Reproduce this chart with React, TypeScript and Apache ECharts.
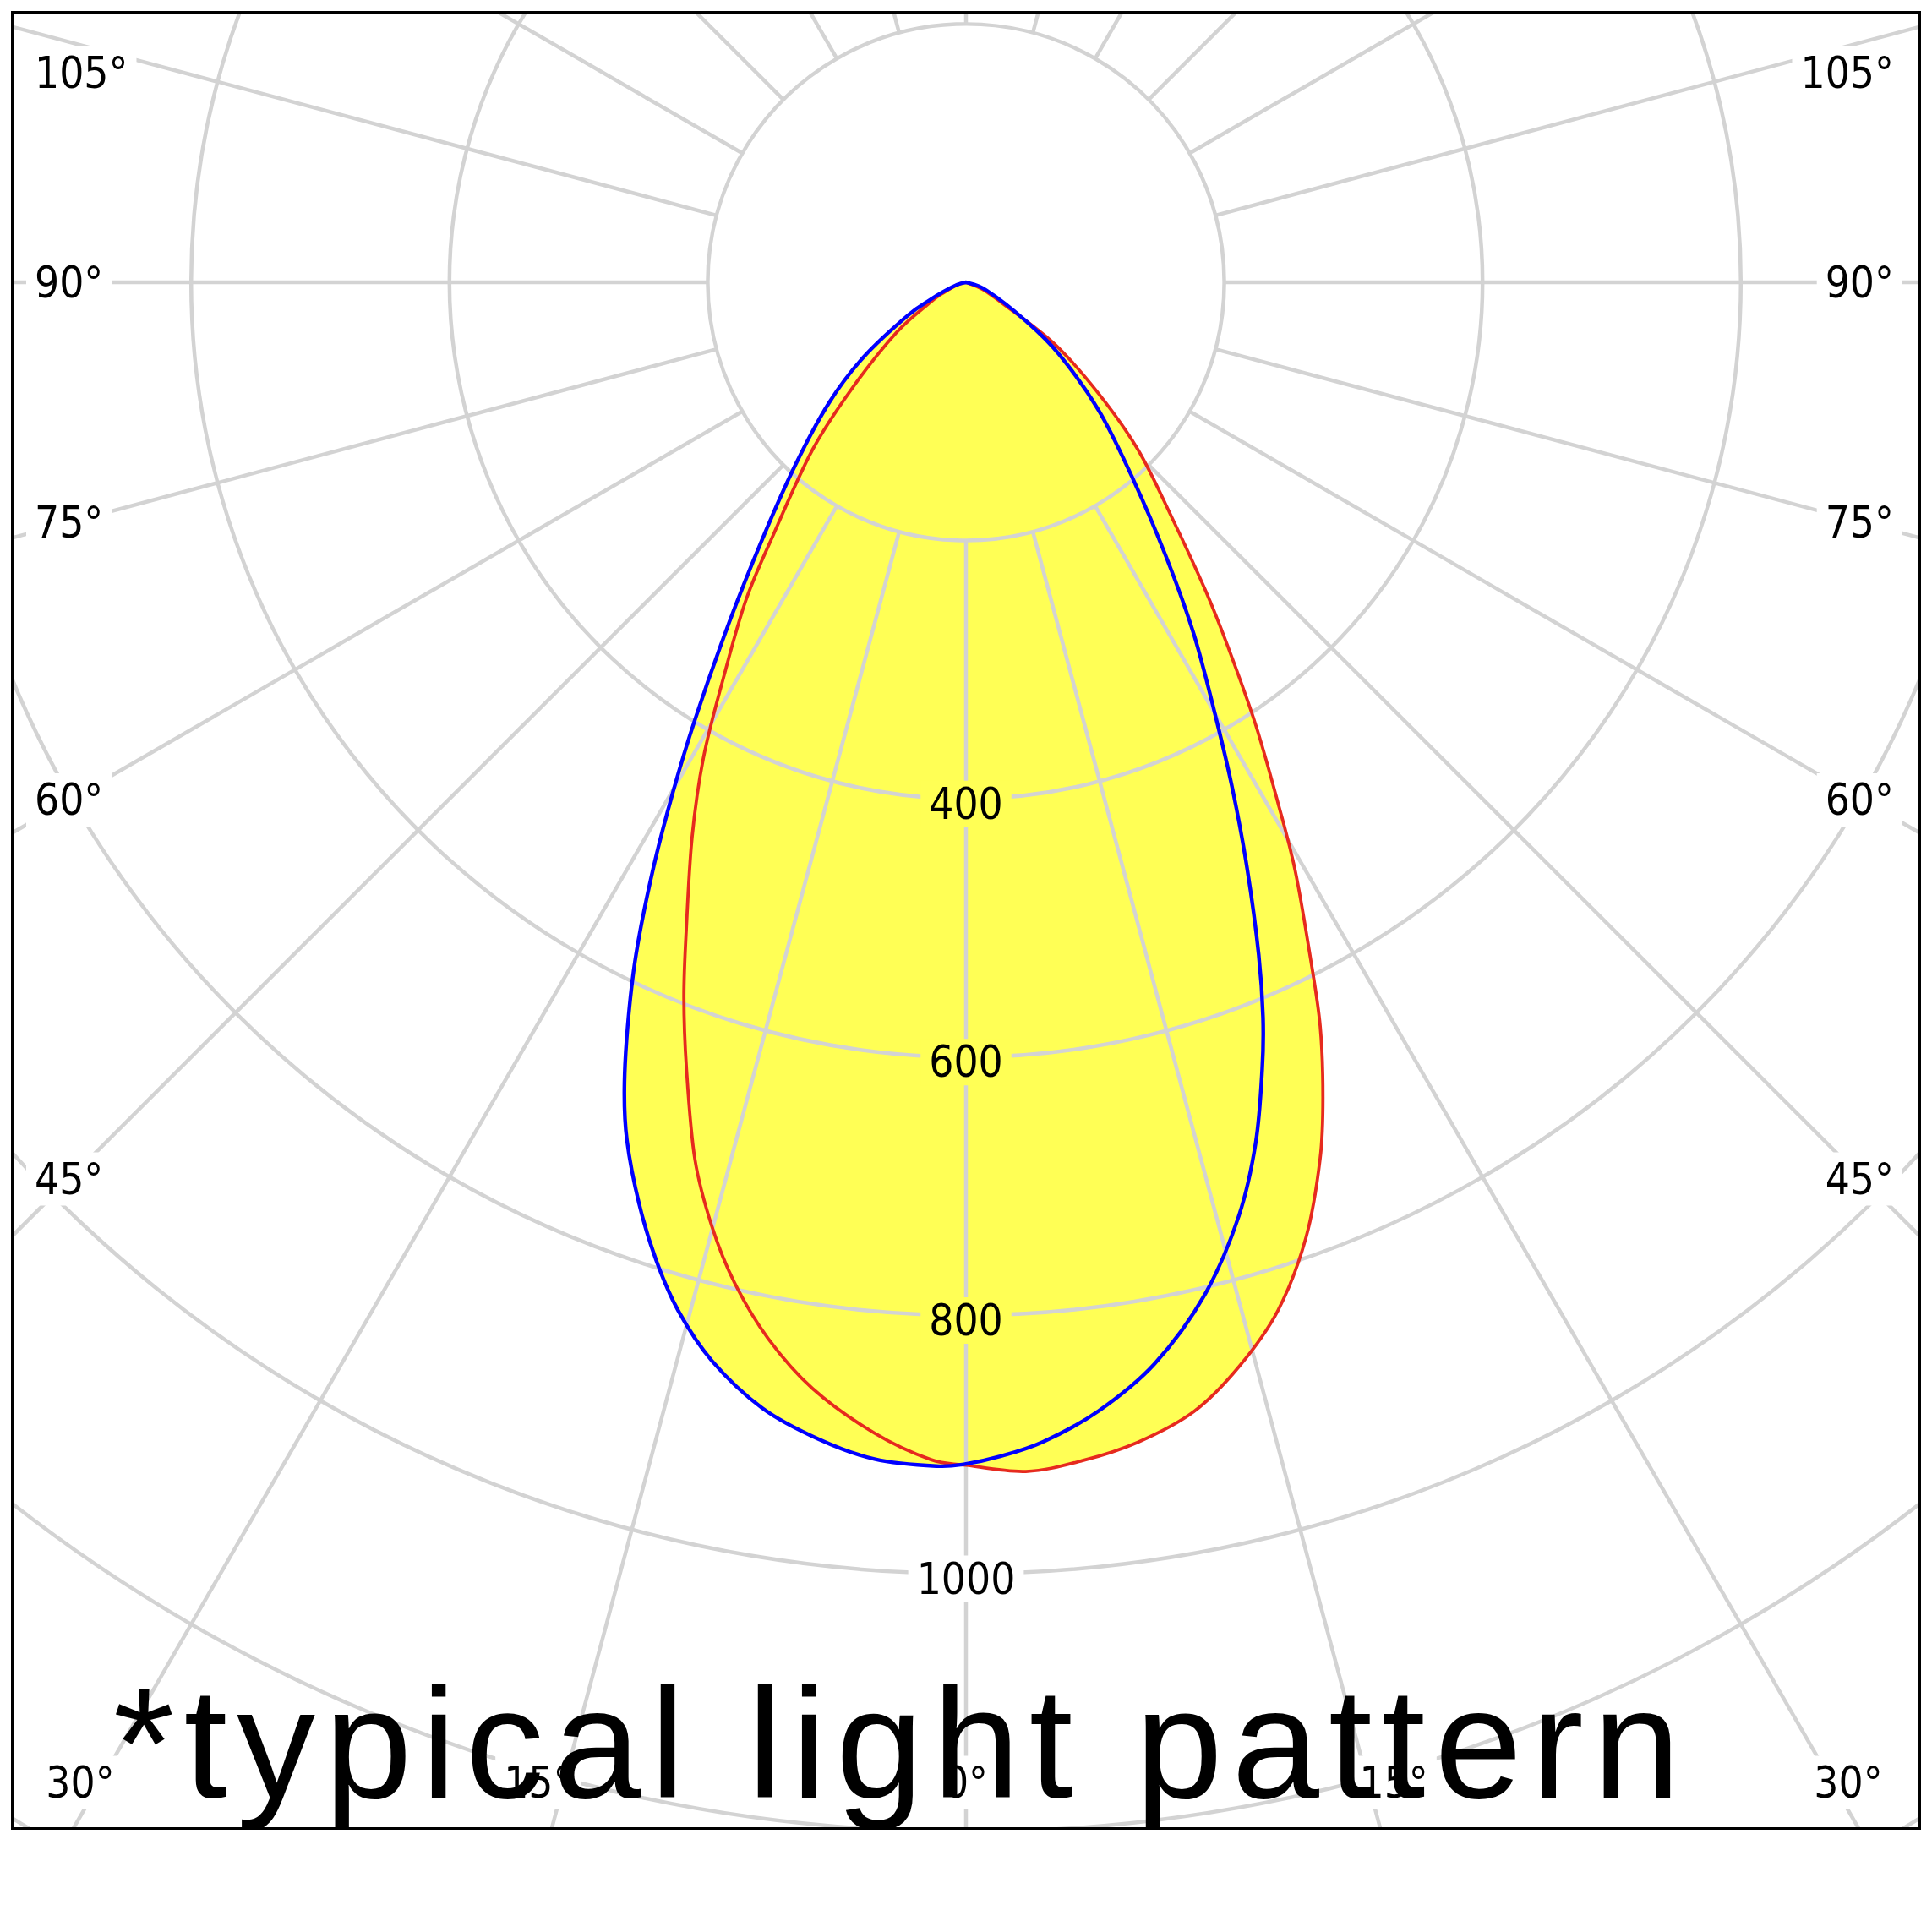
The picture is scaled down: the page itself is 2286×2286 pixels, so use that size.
import React, { useEffect, useRef } from "react";
import * as echarts from "echarts";

// ---- data: [angle from nadir (deg), intensity (cd/klm)] ----
const BLUE_RIGHT: [number, number][] = [
  [0, 915], [1.55, 910], [3.78, 900], [6.7, 880], [9.9, 850], [13.3, 805], [16.3, 753], [18.61, 703],
  [20.63, 651], [22.0, 614], [23.52, 568], [25.57, 505], [27.68, 445], [29.8, 390], [32.9, 325],
  [36.1, 263], [40.4, 199], [46.0, 143], [52.3, 91], [57.2, 55], [68.6, 17], [90, 0],
];
const BLUE_LEFT: [number, number][] = [
  [0, 915], [1.44, 917], [4.45, 914], [7.27, 903], [10.25, 886], [13.26, 858], [15.63, 827], [17.6, 794],
  [19.54, 757], [21.58, 714], [22.93, 679], [24.45, 633], [26.14, 580], [28.04, 516], [29.9, 455],
  [31.8, 398], [34.8, 322], [38.4, 254], [43.1, 193], [48.7, 141], [53.9, 98], [60.35, 52], [64.0, 31],
  [67.3, 19], [74.9, 7], [90, 0],
];
const RED_RIGHT: [number, number][] = [
  [0, 916], [2.88, 922], [5.62, 917], [8.43, 908], [11.42, 892], [14.12, 866], [16.88, 832], [19.6, 785],
  [22.0, 732], [23.65, 689], [25.46, 638], [27.05, 586], [29.23, 522], [30.93, 470], [33.23, 409],
  [35.73, 347], [37.86, 302], [41.2, 242], [45.76, 186], [50.0, 134], [55.2, 83], [59.8, 34], [67.0, 14],
  [90, 0],
];
const RED_LEFT: [number, number][] = [
  [0, 916], [1.73, 912], [4.55, 894], [7.88, 865], [10.62, 832], [13.04, 795], [15.07, 757], [17.17, 711],
  [19.54, 647], [21.54, 595], [23.45, 544], [26.28, 479], [28.89, 421], [31.44, 361], [34.67, 300],
  [37.4, 245], [42.5, 176], [47.1, 120], [54.25, 66], [61.2, 30], [65.3, 18], [73.3, 7], [90, 0],
];

const RADIUS_LABELS = [400, 600, 800, 1000];
const SIDE_LABEL_ANGLES = [45, 60, 75, 90, 105];
const BOTTOM_LABEL_ANGLES = [0, 15, 30];
const NOTE = "*typical light pattern";

// ---- layout / style ----
const PAGE = 2286;
const BOX_LEFT = 13;
const BOX_TOP = 13;
const BOX_W = 2260;
const BOX_H = 2152;
const CX = 1130;
const CY = 321;
const PX_PER_UNIT = 1.528;
const R_MIN = 200;
const R_MAX = 1600;
const R_STEP = 200;
const GRID = "#d3d3d3";
const GRID_W = 4.5;
const FILL = "#ffff55";
const BLUE = "#0000ff";
const RED = "#e62a1e";
const LABEL_FONT = '"DejaVu Sans Condensed", "DejaVu Sans", sans-serif';
const LABEL_SIZE = 51;
const LABEL_PAD = 10;
const SIDE_TEXT_X = 28;
const SIDE_RAY_X = 69;
const SIDE_MIN_Y = 73;
const BOTTOM_TEXT_Y = 2096;
const BOTTOM_RAY_Y = 2210;
const BOTTOM_MIN_X = 82;
const NOTE_X = 121;
const NOTE_Y = 2049;
const NOTE_SIZE = 186;
const NOTE_SPACING = 11;

function buildCurve(left: [number, number][], right: [number, number][]) {
  const l = left.slice(1).reverse().map(([a, v]) => [v, -a]);
  const r = right.map(([a, v]) => [v, a]);
  return l.concat(r);
}

// Catmull-Rom spline through the projected points, written as cubic Béziers
function smoothPath(p: number[][], close: boolean) {
  const f = (n: number) => n.toFixed(2);
  let d = `M${f(p[0][0])},${f(p[0][1])}`;
  for (let i = 0; i < p.length - 1; i++) {
    const p0 = p[i - 1] || p[i];
    const p1 = p[i];
    const p2 = p[i + 1];
    const p3 = p[i + 2] || p2;
    const c1x = p1[0] + (p2[0] - p0[0]) / 6;
    const c1y = p1[1] + (p2[1] - p0[1]) / 6;
    const c2x = p2[0] - (p3[0] - p1[0]) / 6;
    const c2y = p2[1] - (p3[1] - p1[1]) / 6;
    d += ` C${f(c1x)},${f(c1y)} ${f(c2x)},${f(c2y)} ${f(p2[0])},${f(p2[1])}`;
  }
  if (close) d += " Z";
  return d;
}

function curveSeries(data: number[][], mode: "fill" | "line", color: string, width: number) {
  return {
    type: "custom",
    coordinateSystem: "polar",
    polarIndex: 1,
    data,
    clip: false,
    silent: true,
    z: mode === "fill" ? 1 : 3,
    renderItem: (params: any, api: any) => {
      if (params.dataIndex !== 0) return null;
      const pts = data.map((v) => {
        const c = api.coord(v);
        return [c[0], c[1]];
      });
      return {
        type: "path",
        shape: { pathData: smoothPath(pts, mode === "fill") },
        style:
          mode === "fill"
            ? { fill: color, stroke: null }
            : { fill: null, stroke: color, lineWidth: width, lineJoin: "round", lineCap: "round" },
      };
    },
  };
}

function buildOption() {
  const blue = buildCurve(BLUE_LEFT, BLUE_RIGHT);
  const red = buildCurve(RED_LEFT, RED_RIGHT);
  const nadirEdge = Math.max(BLUE_RIGHT[0][1], RED_RIGHT[0][1]);

  const labelStyle = (bg: string) => ({
    font: `${LABEL_SIZE}px ${LABEL_FONT}`,
    fill: "#000",
    backgroundColor: bg,
    padding: [6, LABEL_PAD, 6, LABEL_PAD],
  });

  const graphics: any[] = [];
  const d = CX - SIDE_RAY_X;
  SIDE_LABEL_ANGLES.forEach((a) => {
    const rad = (a * Math.PI) / 180;
    const y = Math.max(SIDE_MIN_Y, CY + (d * Math.cos(rad)) / Math.sin(rad));
    graphics.push({
      type: "text",
      x: SIDE_TEXT_X - LABEL_PAD,
      y,
      z: 15,
      silent: true,
      style: { ...labelStyle("#fff"), text: `${a}°`, align: "left", verticalAlign: "middle" },
    });
    graphics.push({
      type: "text",
      x: BOX_W - SIDE_TEXT_X + LABEL_PAD - 4,
      y,
      z: 15,
      silent: true,
      style: { ...labelStyle("#fff"), text: `${a}°`, align: "right", verticalAlign: "middle" },
    });
  });
  BOTTOM_LABEL_ANGLES.forEach((a) => {
    const rad = (a * Math.PI) / 180;
    const dx = (BOTTOM_RAY_Y - CY) * Math.tan(rad);
    const xs = a === 0 ? [CX] : [CX - dx, CX + dx];
    xs.forEach((x) => {
      const cx = Math.min(BOX_W - BOTTOM_MIN_X - 4, Math.max(BOTTOM_MIN_X, x));
      graphics.push({
        type: "text",
        x: cx,
        y: BOTTOM_TEXT_Y,
        z: 15,
        silent: true,
        style: { ...labelStyle("#fff"), text: `${a}°`, align: "center", verticalAlign: "middle" },
      });
    });
  });
  graphics.push({
    type: "text",
    x: NOTE_X,
    y: NOTE_Y,
    z: 30,
    silent: true,
    style: {
      text: NOTE,
      font: `${NOTE_SIZE}px "Liberation Sans", Arial, sans-serif`,
      fill: "#000",
      align: "left",
      verticalAlign: "middle",
    },
  });
  graphics.push({
    type: "rect",
    z: 40,
    silent: true,
    shape: { x: 1.5, y: 1.5, width: BOX_W - 3, height: BOX_H - 3 },
    style: { fill: "none", stroke: "#000", lineWidth: 3 },
  });

  const hidden = { axisLine: { show: false }, axisTick: { show: false }, axisLabel: { show: false } };
  const outerR = R_MAX * PX_PER_UNIT;

  return {
    animation: false,
    backgroundColor: "#fff",
    polar: [
      { center: [CX, CY], radius: [R_MIN * PX_PER_UNIT, outerR] },
      { center: [CX, CY], radius: [0, outerR] },
    ],
    angleAxis: [
      {
        polarIndex: 0,
        type: "value",
        min: -180,
        max: 180,
        interval: 15,
        startAngle: 90,
        clockwise: false,
        z: 2,
        ...hidden,
        splitLine: { show: true, lineStyle: { color: GRID, width: GRID_W } },
      },
      {
        polarIndex: 1,
        type: "value",
        min: -180,
        max: 180,
        interval: 15,
        startAngle: 90,
        clockwise: false,
        ...hidden,
        splitLine: { show: false },
      },
    ],
    radiusAxis: [
      {
        polarIndex: 0,
        type: "value",
        min: R_MIN,
        max: R_MAX,
        interval: R_STEP,
        z: 2,
        ...hidden,
        splitLine: { show: true, lineStyle: { color: GRID, width: GRID_W } },
      },
      {
        polarIndex: 1,
        type: "value",
        min: 0,
        max: R_MAX,
        interval: R_STEP,
        ...hidden,
        splitLine: { show: false },
      },
    ],
    series: [
      curveSeries(blue, "fill", FILL, 0),
      curveSeries(red, "fill", FILL, 0),
      curveSeries(red, "line", RED, 3.8),
      curveSeries(blue, "line", BLUE, 4.4),
      {
        type: "scatter",
        coordinateSystem: "polar",
        polarIndex: 1,
        symbolSize: 0,
        clip: false,
        silent: true,
        z: 5,
        data: RADIUS_LABELS.map((v) => ({
          value: [v, 0],
          label: { backgroundColor: v < nadirEdge ? FILL : "#fff" },
        })),
        label: {
          show: true,
          position: "inside",
          formatter: (p: any) => String(p.value[0]),
          fontFamily: LABEL_FONT,
          fontSize: LABEL_SIZE,
          color: "#000",
          opacity: 1,
          lineHeight: 47,
          padding: [4, 10, 4, 10],
          offset: [0, 6],
        },
      },
    ],
    graphic: graphics,
  };
}

export default function App() {
  const ref = useRef<HTMLDivElement>(null);
  useEffect(() => {
    const el = ref.current;
    if (!el) return;
    const chart = echarts.init(el, undefined, { renderer: "svg", width: BOX_W, height: BOX_H });
    const applySpacing = () => {
      el.querySelectorAll("text").forEach((t) => {
        if (t.textContent === NOTE) t.setAttribute("letter-spacing", String(NOTE_SPACING));
      });
    };
    chart.on("finished", applySpacing);
    chart.setOption(buildOption() as any);
    applySpacing();
    const raf = requestAnimationFrame(applySpacing);
    const tm = setTimeout(applySpacing, 100);
    return () => {
      cancelAnimationFrame(raf);
      clearTimeout(tm);
      chart.dispose();
    };
  }, []);
  return (
    <div style={{ position: "absolute", left: 0, top: 0, width: PAGE, height: PAGE, background: "#fff" }}>
      <div
        ref={ref}
        style={{ position: "absolute", left: BOX_LEFT, top: BOX_TOP, width: BOX_W, height: BOX_H, overflow: "hidden" }}
      />
    </div>
  );
}
